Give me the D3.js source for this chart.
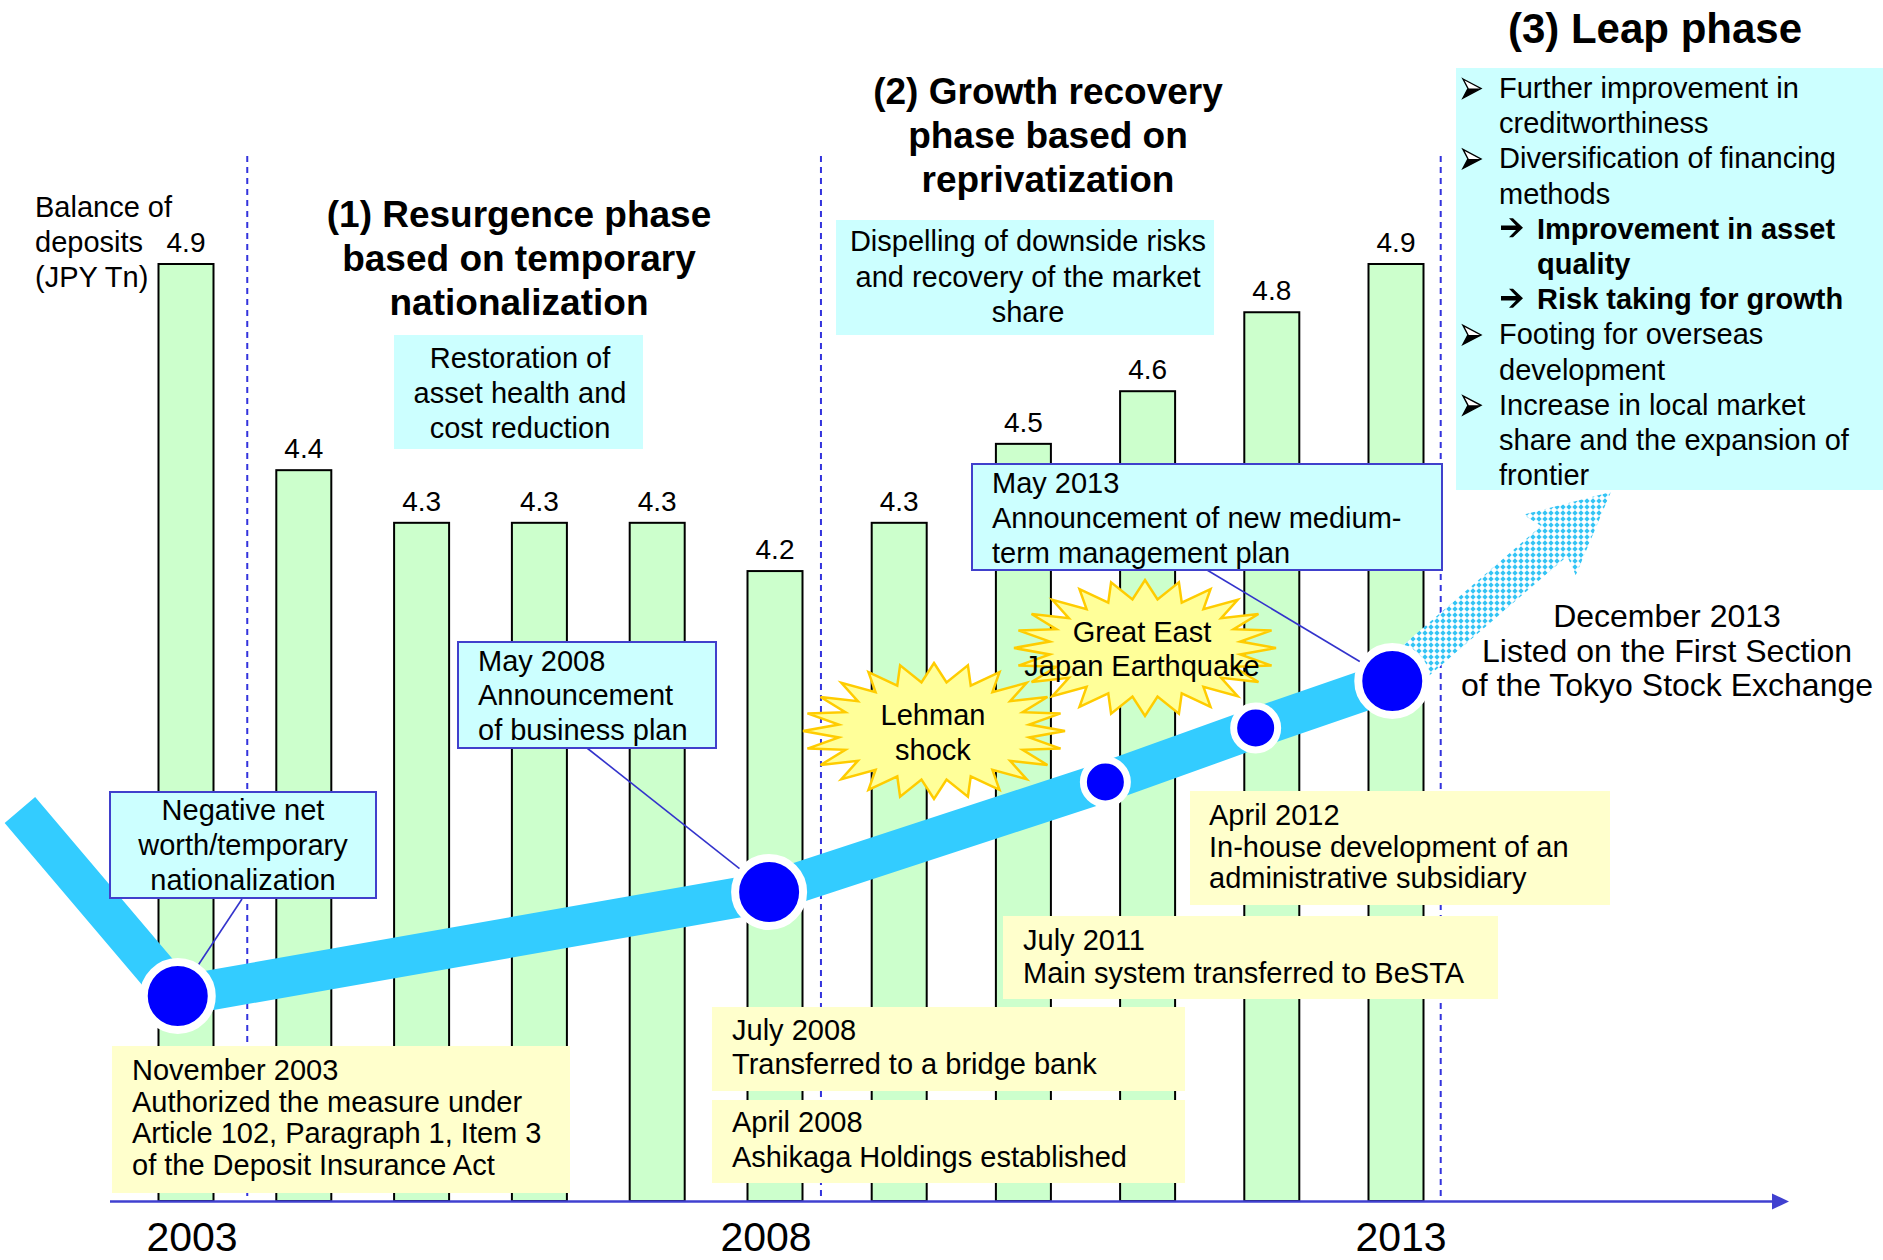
<!DOCTYPE html>
<html>
<head>
  <script src="https://d3js.org/d3.v7.min.js"></script>
  <style>
    body { margin: 0; background: #fff; }
    svg text { font-family: "Liberation Sans", Arial, sans-serif; fill: #000; }
  </style>
</head>
<body>
  <script>
    // Fiscal years and balance of deposits (JPY Tn)
    const years = [2003, 2004, 2005, 2006, 2007, 2008, 2009, 2010, 2011, 2012, 2013];
    const deposits = [4.9, 4.43, 4.31, 4.31, 4.31, 4.2, 4.31, 4.49, 4.61, 4.79, 4.9];
    const yearTicks = [2003, 2008, 2013];
    const yearTickShift = [6, -9, 5];

    // Phase boundaries (dashed lines)
    const phaseBreaks = [2003.52, 2008.37, 2013.36];

    // Schematic growth path: time and level (0-100 index)
    const pathTime = [2001.59, 2002.93, 2007.95, 2010.66, 2011.87, 2012.97];
    const pathLevel = [39.1, 20.5, 30.9, 41.9, 47.3, 52.0];
    const milestoneBig = [false, true, true, false, false, true];
    // Leap arrow (from last milestone to tip)
    const arrowTime = [2012.97, 2014.73];
    const arrowLevel = [52.0, 70.9];

    const w = 1883;
    const h = 1260;
    const baseY = 1201;

    const xScale = d3.scaleLinear()
      .domain([2003, 2008, 2013])
      .range([186, 775, 1396]);

    const yScale = d3.scaleLinear()
      .domain([2.764, 4.9])
      .range([baseY, 264]);

    const yPath = d3.scaleLinear()
      .domain([0, 100])
      .range([baseY, 201]);

    const svg = d3.select("body")
      .append("svg")
      .attr("width", w)
      .attr("height", h);

    const defs = svg.append("defs");
    const pat = defs.append("pattern")
      .attr("id", "lattice")
      .attr("width", 6).attr("height", 6)
      .attr("patternUnits", "userSpaceOnUse");
    pat.append("rect").attr("width", 6).attr("height", 6).attr("fill", "#ffffff");
    pat.append("path").attr("d", "M3,0.3 L5.7,3 L3,5.7 L0.3,3 Z").attr("fill", "#33c4f5");

    // helper for multi-line text
    function lines(arr, x, ys, opts) {
      opts = opts || {};
      arr.forEach((t, i) => {
        svg.append("text")
          .attr("x", x)
          .attr("y", ys[i])
          .attr("text-anchor", opts.anchor || "start")
          .attr("font-size", opts.size || 29)
          .attr("font-weight", opts.bold ? "bold" : "normal")
          .text(t);
      });
    }

    // Bars
    const barW = 55;
    svg.selectAll("rect.bar")
      .data(deposits)
      .enter()
      .append("rect")
      .attr("class", "bar")
      .attr("x", (d, i) => xScale(years[i]) - barW / 2)
      .attr("y", d => yScale(d))
      .attr("width", barW)
      .attr("height", d => baseY - yScale(d))
      .attr("fill", "#ccffcc")
      .attr("stroke", "#000")
      .attr("stroke-width", 2);

    // Bar labels
    svg.selectAll("text.val")
      .data(deposits)
      .enter()
      .append("text")
      .attr("class", "val")
      .attr("x", (d, i) => xScale(years[i]))
      .attr("y", d => yScale(d) - 12)
      .attr("text-anchor", "middle")
      .attr("font-size", 28)
      .text(d => d3.format(".1f")(d));

    // Phase dashed lines
    svg.selectAll("line.phase")
      .data(phaseBreaks)
      .enter()
      .append("line")
      .attr("x1", d => xScale(d)).attr("x2", d => xScale(d))
      .attr("y1", 156).attr("y2", baseY)
      .attr("stroke", "#3333dd")
      .attr("stroke-width", 2)
      .attr("stroke-dasharray", "6,5");

    // Time axis with arrow
    svg.append("line")
      .attr("x1", 110).attr("x2", 1776)
      .attr("y1", baseY + 0.5).attr("y2", baseY + 0.5)
      .attr("stroke", "#4040d0")
      .attr("stroke-width", 2.5);
    svg.append("path")
      .attr("d", `M1772,${baseY - 7.5} L1789,${baseY + 0.5} L1772,${baseY + 8.5} Z`)
      .attr("fill", "#4040d0");

    // Year tick labels
    svg.selectAll("text.year")
      .data(yearTicks)
      .enter()
      .append("text")
      .attr("x", (d, i) => xScale(d) + yearTickShift[i])
      .attr("y", 1251)
      .attr("text-anchor", "middle")
      .attr("font-size", 41)
      .text(d => d);

    // Growth path
    const pts = pathTime.map((t, i) => [xScale(t), yPath(pathLevel[i])]);
    svg.append("path")
      .attr("d", d3.line()(pts))
      .attr("fill", "none")
      .attr("stroke", "#33ccff")
      .attr("stroke-width", 40)
      .attr("stroke-linejoin", "round");

    // Leap arrow
    const a0 = [xScale(arrowTime[0]), yPath(arrowLevel[0])];
    const a1 = [xScale(arrowTime[1]), yPath(arrowLevel[1])];
    const L = Math.hypot(a1[0] - a0[0], a1[1] - a0[1]);
    const u = [(a1[0] - a0[0]) / L, (a1[1] - a0[1]) / L];
    const n = [-u[1], u[0]];
    const headLen = 75, shaftHalf = 20, headHalf = 40;
    const P = (s, o) => [a0[0] + u[0] * s + n[0] * o, a0[1] + u[1] * s + n[1] * o];
    const arrowPts = [
      P(0, shaftHalf), P(L - headLen, shaftHalf), P(L - headLen - 6, headHalf),
      P(L, 0),
      P(L - headLen - 6, -headHalf), P(L - headLen, -shaftHalf), P(0, -shaftHalf)
    ];
    svg.append("path")
      .attr("d", "M" + arrowPts.map(p => p.join(",")).join("L") + "Z")
      .attr("fill", "url(#lattice)");

    // Lead lines from callouts to milestones
    const leads = [[242, 899, 1], [587, 748, 2], [1207, 570, 5]];
    leads.forEach(l => {
      svg.append("line")
        .attr("x1", l[0]).attr("y1", l[1])
        .attr("x2", pts[l[2]][0]).attr("y2", pts[l[2]][1])
        .attr("stroke", "#3333cc")
        .attr("stroke-width", 1.6);
    });

    // Milestone circles
    svg.selectAll("circle.ms")
      .data(pts.slice(1))
      .enter()
      .append("circle")
      .attr("cx", d => d[0])
      .attr("cy", d => d[1])
      .attr("r", (d, i) => milestoneBig[i + 1] ? 34 : 22)
      .attr("fill", "#0000ff")
      .attr("stroke", "#fff")
      .attr("stroke-width", (d, i) => milestoneBig[i + 1] ? 8 : 7);

    // Boxes
    function box(x, y, bw, bh, fill, border) {
      svg.append("rect")
        .attr("x", x).attr("y", y)
        .attr("width", bw).attr("height", bh)
        .attr("fill", fill)
        .attr("stroke", border ? "#4040cc" : "none")
        .attr("stroke-width", 2);
    }

    // Phase (1)
    lines(["(1) Resurgence phase", "based on temporary", "nationalization"],
      519, [227, 271, 315], { anchor: "middle", size: 37, bold: true });
    box(394, 335, 249, 114, "#ccffff");
    lines(["Restoration of", "asset health and", "cost reduction"],
      520, [368, 403, 438], { anchor: "middle" });

    // Phase (2)
    lines(["(2) Growth recovery", "phase based on", "reprivatization"],
      1048, [104, 148, 192], { anchor: "middle", size: 37, bold: true });
    box(836, 220, 378, 115, "#ccffff");
    lines(["Dispelling of downside risks", "and recovery of the market", "share"],
      1028, [251, 287, 322], { anchor: "middle" });

    // Phase (3)
    lines(["(3) Leap phase"], 1655, [43], { anchor: "middle", size: 42, bold: true });
    box(1456, 68, 427, 422, "#ccffff");
    const ly = d3.range(12).map(i => 98 + i * 35.2);
    const leapItems = [
      ["Further improvement in", 0, false, true],
      ["creditworthiness", 0, false, false],
      ["Diversification of financing", 0, false, true],
      ["methods", 0, false, false],
      ["Improvement in asset", 1, true, "arrow"],
      ["quality", 1, true, false],
      ["Risk taking for growth", 1, true, "arrow"],
      ["Footing for overseas", 0, false, true],
      ["development", 0, false, false],
      ["Increase in local market", 0, false, true],
      ["share and the expansion of", 0, false, false],
      ["frontier", 0, false, false]
    ];
    leapItems.forEach((it, i) => {
      const y = ly[i];
      lines([it[0]], it[1] ? 1537 : 1499, [y], { bold: it[2] });
      if (it[3] === true) {
        const g = svg.append("g").attr("transform", `translate(1463,${y})`);
        g.append("path").attr("d", "M0,-19 L18,-9.5 L0,0 L5,-9.5 Z")
          .attr("fill", "#fff").attr("stroke", "#000").attr("stroke-width", 1.4)
          .attr("stroke-linejoin", "miter");
        g.append("path").attr("d", "M5,-9.5 L18,-9.5 L0,0 Z").attr("fill", "#000");
      } else if (it[3] === "arrow") {
        // bold right arrow
        svg.append("path")
          .attr("transform", `translate(1501,${y - 11})`)
          .attr("d", "M0,-2.2 L15,-2.2 L8,-9.5 L12,-9.5 L22,0 L12,9.5 L8,9.5 L15,2.2 L0,2.2 Z")
          .attr("fill", "#000");
      }
    });

    // Y label
    lines(["Balance of", "deposits", "(JPY Tn)"], 35, [217, 252, 287]);

    // Callouts (blue border)
    box(110, 792, 266, 106, "#ccffff", true);
    lines(["Negative net", "worth/temporary", "nationalization"],
      243, [820, 855, 890], { anchor: "middle" });
    box(458, 642, 258, 106, "#ccffff", true);
    lines(["May 2008", "Announcement", "of business plan"], 478, [671, 705, 740]);
    box(972, 464, 470, 106, "#ccffff", true);
    lines(["May 2013", "Announcement of new medium-", "term management plan"],
      992, [493, 528, 563]);

    // Event notes (yellow)
    box(112, 1046, 458, 147, "#ffffcc");
    lines(["November 2003", "Authorized the measure under",
      "Article 102, Paragraph 1, Item 3", "of the Deposit Insurance Act"],
      132, [1080, 1112, 1143, 1175]);
    box(712, 1007, 473, 84, "#ffffcc");
    lines(["July 2008", "Transferred to a bridge bank"], 732, [1040, 1074]);
    box(712, 1100, 473, 83, "#ffffcc");
    lines(["April 2008", "Ashikaga Holdings established"], 732, [1132, 1167]);
    box(1003, 916, 495, 83, "#ffffcc");
    lines(["July 2011", "Main system transferred to BeSTA"], 1023, [950, 983]);
    box(1190, 791, 420, 114, "#ffffcc");
    lines(["April 2012", "In-house development of an", "administrative subsidiary"],
      1209, [825, 857, 888]);

    // Starbursts
    function burst(cx, cy) {
      const k = 24;
      const p = d3.range(k * 2).map(i => {
        const a = -Math.PI / 2 + i * Math.PI / k;
        const big = i % 2 === 0;
        const rx = big ? 131 : 96, ry = big ? 68 : 49;
        return [cx + rx * Math.cos(a), cy + ry * Math.sin(a)];
      });
      svg.append("path")
        .attr("d", "M" + p.map(q => q.join(",")).join("L") + "Z")
        .attr("fill", "#ffff99")
        .attr("stroke", "#ffcc00")
        .attr("stroke-width", 2.5)
        .attr("stroke-linejoin", "miter");
    }
    burst(934, 731);
    lines(["Lehman", "shock"], 933, [725, 760], { anchor: "middle" });
    burst(1145, 648);
    lines(["Great East", "Japan Earthquake"], 1142, [642, 676], { anchor: "middle" });

    // Listing note
    lines(["December 2013", "Listed on the First Section", "of the Tokyo Stock Exchange"],
      1667, [627, 662, 696], { anchor: "middle", size: 32 });
  </script>
</body>
</html>
